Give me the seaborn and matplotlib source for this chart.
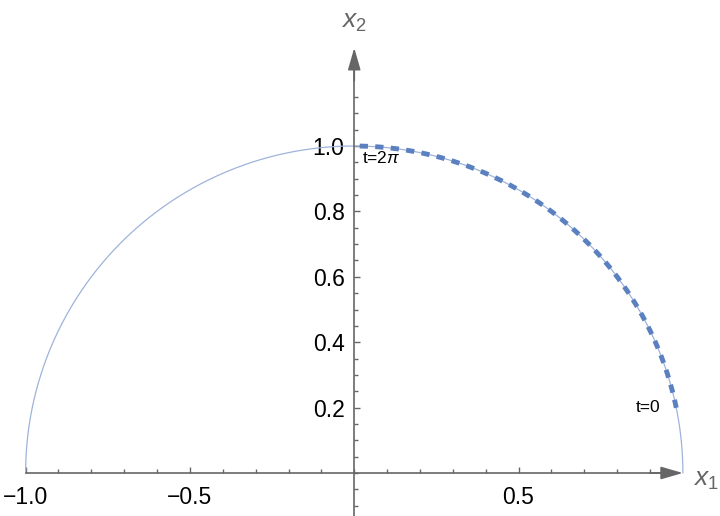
import numpy as np
import pandas as pd
import seaborn as sns
import matplotlib.pyplot as plt
from matplotlib import font_manager
from matplotlib.ticker import FixedLocator

# 曲线参数（单位圆上半部分）
radius = 1.0
full_arc = (0.0, 180.0)      # 细实线：整个上半圆（角度）
dashed_arc = (11.5, 90.0)    # 粗虚线：t=0 到 t=2π 的一段

# 刻度
x_major = [-1.0, -0.5, 0.5]
x_labels = ['\u22121.0', '\u22120.5', '0.5']
y_major = [0.2, 0.4, 0.6, 0.8, 1.0]
y_labels = ['0.2', '0.4', '0.6', '0.8', '1.0']

# 注释
t_labels = ['t=2$\\mathit{\\pi}$', 't=0']
t_pos = [(0.023, 0.963), (0.893, 0.20)]


def arc_frame(a0, a1, n=400):
    ang = np.deg2rad(np.linspace(a0, a1, n))
    return pd.DataFrame({'x1': radius * np.cos(ang), 'x2': radius * np.sin(ang)})


sns.set_theme(style='white')
names = {f.name for f in font_manager.fontManager.ttflist}
fam = 'Liberation Sans Narrow' if 'Liberation Sans Narrow' in names else 'Liberation Sans'
plt.rcParams['font.family'] = [fam, 'DejaVu Sans']
plt.rcParams['mathtext.fontset'] = 'custom'
plt.rcParams['mathtext.it'] = 'Liberation Sans:italic'
plt.rcParams['mathtext.rm'] = 'Liberation Sans'

axis_gray = '#666666'

fig = plt.figure(figsize=(7.2, 5.16), dpi=100)
ax = fig.add_axes([0, 0, 1, 1])

# 细实线和虚线
sns.lineplot(data=arc_frame(*full_arc), x='x1', y='x2', sort=False, ax=ax,
             color='#9fb3da', lw=0.9)
sns.lineplot(data=arc_frame(*dashed_arc), x='x1', y='x2', sort=False, ax=ax,
             color='#5b80c0', lw=3.5, linestyle=(0, (1.7, 1.5)))

ax.set_xlim(-1.078, 1.113)
ax.set_ylim(-0.1315, 1.4465)
ax.set_xlabel('')
ax.set_ylabel('')

# 坐标轴过原点
for s in ['top', 'right']:
    ax.spines[s].set_visible(False)
ax.spines['bottom'].set_position(('data', 0))
ax.spines['left'].set_position(('data', 0))
ax.spines['bottom'].set_bounds(-1.0, 0.97)
ax.spines['left'].set_bounds(-0.1315, 1.27)
for s in ['bottom', 'left']:
    ax.spines[s].set_color(axis_gray)
    ax.spines[s].set_linewidth(1.2)

ax.xaxis.set_major_locator(FixedLocator(x_major))
ax.set_xticklabels(x_labels)
ax.xaxis.set_minor_locator(FixedLocator(np.round(np.arange(-1.0, 0.95, 0.1), 2)))
ax.yaxis.set_major_locator(FixedLocator(y_major))
ax.set_yticklabels(y_labels)
ax.yaxis.set_minor_locator(FixedLocator(np.round(np.arange(-0.10, 1.16, 0.05), 2)))

# 刻度向内（x 轴朝上，y 轴朝右）
ax.tick_params(which='both', direction='in', colors=axis_gray, bottom=True, left=True,
               labelcolor='black', labelsize=16.5, width=1)
ax.tick_params(which='major', length=4.5)
ax.tick_params(which='minor', length=3)
ax.tick_params(axis='x', pad=9)
ax.tick_params(axis='y', pad=7)

# 箭头
arrow = dict(arrowstyle='-|>,head_length=0.9,head_width=0.26', color=axis_gray,
             lw=1.2, mutation_scale=15, shrinkA=0, shrinkB=0)
ax.annotate('', xy=(1.0, 0), xytext=(0.9, 0), arrowprops=arrow)
ax.annotate('', xy=(0, 1.30), xytext=(0, 1.2), arrowprops=arrow)

# 轴标题
ax.text(1.07, -0.02, '$x_1$', color=axis_gray, fontsize=19, ha='center', va='center')
ax.text(-0.003, 1.379, '$x_2$', color=axis_gray, fontsize=19, ha='center', va='center')

# t 注释
for lab, (px, py) in zip(t_labels, t_pos):
    ax.text(px, py, lab, fontsize=12.5, ha='left' if px < 0.5 else 'center',
            va='center', color='black')

fig.savefig('out.png', dpi=100)
